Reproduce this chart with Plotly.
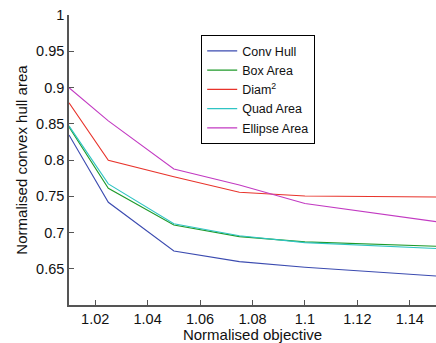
import plotly.graph_objects as go

x = [1.01, 1.025, 1.05, 1.075, 1.1, 1.15]
conv_hull = [0.8345, 0.7417, 0.6745, 0.6598, 0.652, 0.640]
box_area = [0.8455, 0.761, 0.7103, 0.6943, 0.687, 0.681]
diam2 = [0.879, 0.7996, 0.777, 0.7555, 0.7503, 0.749]
quad_area = [0.847, 0.767, 0.712, 0.6955, 0.686, 0.678]
ellipse_area = [0.8997, 0.854, 0.7876, 0.7655, 0.740, 0.715]

names = ["Conv Hull", "Box Area", "Diam<sup>2</sup>", "Quad Area", "Ellipse Area"]
series = [conv_hull, box_area, diam2, quad_area, ellipse_area]
colors = ["#3b4bb0", "#1f9a2a", "#e8332b", "#2fc4c4", "#c23ac2"]

x_ticks = [1.02, 1.04, 1.06, 1.08, 1.1, 1.12, 1.14]
x_tick_labels = ["1.02", "1.04", "1.06", "1.08", "1.1", "1.12", "1.14"]
y_ticks = [0.65, 0.7, 0.75, 0.8, 0.85, 0.9, 0.95, 1.0]
y_tick_labels = ["0.65", "0.7", "0.75", "0.8", "0.85", "0.9", "0.95", "1"]

fig = go.Figure()
for n, s, c in zip(names, series, colors):
    fig.add_trace(go.Scatter(x=x, y=s, mode="lines", name=n,
                             line=dict(color=c, width=1.1)))

axis_common = dict(showgrid=False, zeroline=False, showline=True,
                   linecolor="#555555", linewidth=1.5, ticks="inside",
                   ticklen=5, tickcolor="#555555",
                   tickfont=dict(size=14.5, color="#111111"))

fig.update_layout(
    width=436, height=343,
    margin=dict(l=69, r=0, t=15, b=38, autoexpand=False),
    paper_bgcolor="white", plot_bgcolor="white",
    font=dict(family="Liberation Sans, Arial, sans-serif", color="#111111"),
    xaxis=dict(range=[1.01, 1.15], tickvals=x_ticks, ticktext=x_tick_labels,
               title=dict(text="Normalised objective", font=dict(size=15), standoff=0),
               **axis_common),
    yaxis=dict(range=[0.6, 1.0], tickvals=y_ticks, ticktext=y_tick_labels,
               title=dict(text="Normalised convex hull area", font=dict(size=15), standoff=5),
               **axis_common),
    legend=dict(x=(201 - 69) / 367, xanchor="left", y=(305 - 35) / 290, yanchor="top",
                bordercolor="black", borderwidth=1.2, bgcolor="white",
                font=dict(size=12.5), tracegroupgap=0, itemwidth=30),
    showlegend=True,
)

fig.write_html("out.html")
